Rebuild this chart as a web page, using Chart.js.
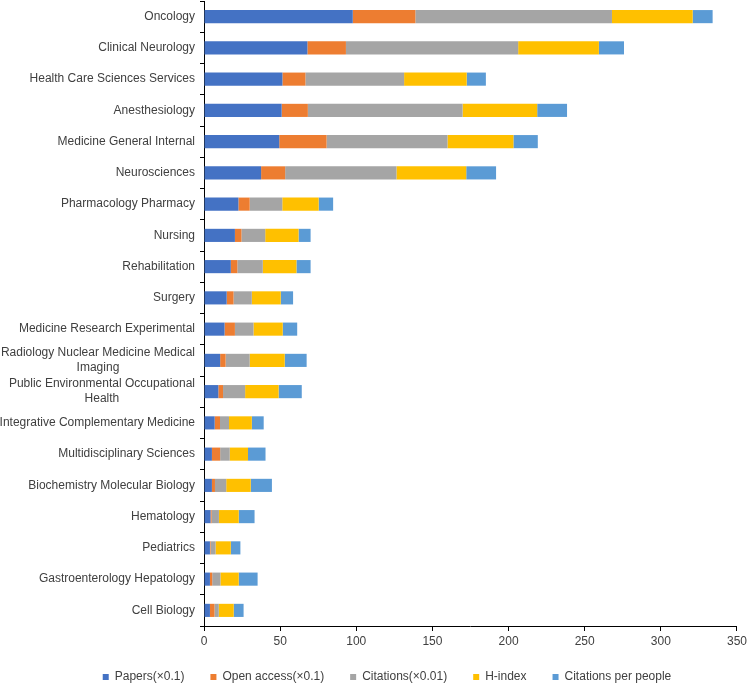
<!DOCTYPE html>
<html>
<head>
<meta charset="utf-8">
<script src="https://cdn.jsdelivr.net/npm/chart.js@4"></script>
<style>
  html, body { margin: 0; padding: 0; background: #fff; }
  #wrap { width: 750px; height: 684px; }
</style>
</head>
<body>
<div id="wrap"><canvas id="fieldChart" width="750" height="684"></canvas></div>
<script>
// categories, top to bottom
const categories = [
    'Oncology',
    'Clinical Neurology',
    'Health Care Sciences Services',
    'Anesthesiology',
    'Medicine General Internal',
    'Neurosciences',
    'Pharmacology Pharmacy',
    'Nursing',
    'Rehabilitation',
    'Surgery',
    'Medicine Research Experimental',
    ['Radiology Nuclear Medicine Medical', 'Imaging'],
    ['Public Environmental Occupational', 'Health'],
    'Integrative Complementary Medicine',
    'Multidisciplinary Sciences',
    'Biochemistry Molecular Biology',
    'Hematology',
    'Pediatrics',
    'Gastroenterology Hepatology',
    'Cell Biology'
];

// series values (already scaled as in the legend)
const papers = [97.7, 67.9, 51.5, 51, 49.4, 37.5, 22.6, 20.3, 17.6, 14.9, 13.5, 10.6, 9.4, 7, 5.2, 5.2, 4.3, 3.9, 3.9, 3.9];
const openAccess = [41.1, 25.3, 15.1, 17.2, 31.1, 15.8, 7.4, 4.3, 4.3, 4.5, 6.8, 3.6, 3.1, 3.5, 5.4, 2, 0.7, 0.4, 1.5, 3];
const citations = [129.1, 113.1, 64.8, 101.6, 79.4, 73.1, 21.4, 15.6, 16.7, 12, 12.2, 15.8, 14.5, 5.9, 6.3, 7.4, 4.8, 3.3, 5.4, 2.8];
const hIndex = [53, 53, 41.1, 49, 43.3, 45.8, 23.9, 21.9, 22.1, 19, 19.2, 23, 22, 15, 12, 16.1, 13, 10, 12, 9.8];
const citesPerPeople = [13.1, 16.5, 12.6, 19.6, 16, 19.6, 9.5, 7.9, 9.3, 8.1, 9.5, 14.4, 15.2, 7.8, 11.5, 13.9, 10.4, 6.3, 12.4, 6.5];

const seriesNames = ['Papers(\u00d70.1)', 'Open access(\u00d70.1)', 'Citations(\u00d70.01)', 'H-index', 'Citations per people'];
const xTicks = [0, 50, 100, 150, 200, 250, 300, 350];

const FONT = '"Liberation Sans", Arial, sans-serif';
const TEXT = '#404040';

// y labels: right aligned block, extra lines centred under the widest one (Excel style)
const yLabelPlugin = {
    id: 'yLabels',
    afterDraw(chart) {
        const ctx = chart.ctx;
        const ys = chart.scales.y;
        const right = ys.right - 9;
        ctx.save();
        ctx.font = '12px ' + FONT;
        ctx.fillStyle = TEXT;
        ctx.textAlign = 'center';
        ctx.textBaseline = 'middle';
        categories.forEach((lab, i) => {
            const lines = Array.isArray(lab) ? lab : [lab];
            const y = ys.getPixelForTick(i);
            const widest = Math.max(...lines.map(l => ctx.measureText(l).width));
            const cx = right - widest / 2;
            lines.forEach((ln, j) => {
                ctx.fillText(ln, cx, y + (j - (lines.length - 1) / 2) * 15);
            });
        });
        ctx.restore();
    }
};

const ctx = document.getElementById('fieldChart').getContext('2d');

const fieldChart = new Chart(ctx, {
    type: 'bar',
    data: {
        labels: categories,
        datasets: [
            { label: seriesNames[0], data: papers, backgroundColor: '#4472C4' },
            { label: seriesNames[1], data: openAccess, backgroundColor: '#ED7D31' },
            { label: seriesNames[2], data: citations, backgroundColor: '#A5A5A5' },
            { label: seriesNames[3], data: hIndex, backgroundColor: '#FFC000' },
            { label: seriesNames[4], data: citesPerPeople, backgroundColor: '#5B9BD5' }
        ]
    },
    options: {
        indexAxis: 'y',
        responsive: false,
        animation: false,
        datasets: {
            bar: { categoryPercentage: 1, barPercentage: 0.42 }
        },
        // left padding only nudges the legend; y axis width makes up the rest
        layout: { padding: { top: 1, right: 11, bottom: 0, left: 35 } },
        scales: {
            x: {
                stacked: true,
                min: 0,
                max: 350,
                afterBuildTicks: (scale) => { scale.ticks = xTicks.map(v => ({ value: v })); },
                grid: { drawOnChartArea: false, drawTicks: true, tickLength: 5, color: '#000' },
                border: { color: '#000', width: 1 },
                ticks: { color: TEXT, font: { family: FONT, size: 12 }, padding: 3 },
                afterFit: (scale) => { scale.height = 19; }
            },
            y: {
                stacked: true,
                grid: { drawOnChartArea: false, drawTicks: true, tickLength: 4, color: '#000', offset: true },
                border: { color: '#000', width: 1 },
                ticks: { display: false },
                afterFit: (scale) => { scale.width = 169; }
            }
        },
        plugins: {
            legend: {
                position: 'bottom',
                maxHeight: 39,
                labels: {
                    boxWidth: 6,
                    boxHeight: 6,
                    padding: 26,
                    color: TEXT,
                    font: { family: FONT, size: 12 }
                }
            },
            tooltip: { enabled: false }
        }
    },
    plugins: [yLabelPlugin]
});
</script>
</body>
</html>
